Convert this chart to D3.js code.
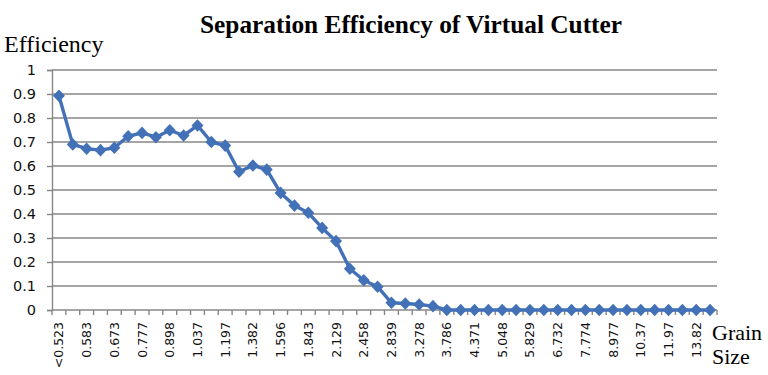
<!DOCTYPE html>
<html>
<head>
<meta charset="utf-8">
<script src="https://cdn.jsdelivr.net/npm/d3@7"></script>
<style>
  body { margin: 0; background: #fff; }
  svg { display: block; }
</style>
</head>
<body>
<svg id="viz"></svg>
<script>
// grain size classes (every other one is labelled on the axis)
const sizes = [
  '<0.523', '0.553', '0.583', '0.626', '0.673', '0.723', '0.777', '0.835',
  '0.898', '0.965', '1.037', '1.114', '1.197', '1.286', '1.382', '1.485',
  '1.596', '1.715', '1.843', '1.981', '2.129', '2.288', '2.458', '2.642',
  '2.839', '3.051', '3.278', '3.523', '3.786', '4.068', '4.371', '4.697',
  '5.048', '5.425', '5.829', '6.264', '6.732', '7.234', '7.774', '8.354',
  '8.977', '9.648', '10.37', '11.14', '11.97', '12.86', '13.82', '14.89'
];
const efficiency = [
  0.893, 0.69, 0.672, 0.666, 0.676, 0.724, 0.738, 0.72,
  0.749, 0.727, 0.769, 0.70, 0.685, 0.576, 0.602, 0.585,
  0.488, 0.435, 0.405, 0.342, 0.287, 0.172, 0.124, 0.097,
  0.03, 0.027, 0.023, 0.016, 0, 0, 0, 0,
  0, 0, 0, 0, 0, 0, 0, 0,
  0, 0, 0, 0, 0, 0, 0, 0
];
const yTicks = [0, 0.1, 0.2, 0.3, 0.4, 0.5, 0.6, 0.7, 0.8, 0.9, 1];

const W = 768, H = 375;
const margin = { top: 70, right: 51, bottom: 65, left: 52 };
const width = W - margin.left - margin.right;
const height = H - margin.top - margin.bottom;
const blue = '#4271b7';

const svg = d3.select('#viz').attr('width', W).attr('height', H);
const g = svg.append('g')
  .attr('transform', 'translate(' + margin.left + ',' + margin.top + ')');

// SCALES
const x = d3.scaleBand().domain(sizes).range([0, width]).padding(0);
const y = d3.scaleLinear().domain([0, 1]).range([height, 0]);

// GRIDLINES
g.append('g')
  .selectAll('line')
  .data(yTicks.slice(1))
  .enter()
  .append('line')
  .attr('x1', 0)
  .attr('x2', width)
  .attr('y1', (d) => y(d))
  .attr('y2', (d) => y(d))
  .style('stroke', '#878787')
  .style('stroke-width', 1.4);

// Y AXIS
const yAxis = g.append('g')
  .call(d3.axisLeft(y).tickValues(yTicks).tickFormat((d) => d3.format('')(d)).tickSize(5).tickPadding(11));
yAxis.select('.domain').style('stroke', '#878787').style('stroke-width', 1.4);
yAxis.selectAll('.tick line').style('stroke', '#878787').style('stroke-width', 1.4);
yAxis.selectAll('text')
  .style('font-family', 'DejaVu Sans')
  .style('font-size', '14.5px')
  .style('fill', '#111');

// X AXIS (ticks between categories, labels on every other category)
const xAxis = g.append('g').attr('transform', 'translate(0,' + height + ')');
xAxis.append('line')
  .attr('x1', 0).attr('x2', width)
  .style('stroke', '#878787').style('stroke-width', 1.4);
xAxis.selectAll('.xtick')
  .data(sizes.concat(['end']))
  .enter()
  .append('line')
  .attr('class', 'xtick')
  .attr('x1', (d, i) => i * x.step())
  .attr('x2', (d, i) => i * x.step())
  .attr('y1', 0)
  .attr('y2', 5)
  .style('stroke', '#878787')
  .style('stroke-width', 1.4);
xAxis.selectAll('.xlabel')
  .data(sizes.filter((d, i) => i % 2 === 0))
  .enter()
  .append('text')
  .attr('class', 'xlabel')
  .attr('transform', (d) => 'translate(' + (x(d) + x.bandwidth() / 2 + 4.5) + ',12) rotate(-90)')
  .attr('text-anchor', 'end')
  .style('font-family', 'DejaVu Sans')
  .style('font-size', '12.5px')
  .style('fill', '#111')
  .text((d) => d);

// DATA
const line = d3.line()
  .x((d, i) => x(sizes[i]) + x.bandwidth() / 2)
  .y((d) => y(d));

g.append('path')
  .datum(efficiency)
  .attr('d', line)
  .style('fill', 'none')
  .style('stroke', blue)
  .style('stroke-width', 3.4)
  .style('stroke-linejoin', 'round');

g.append('g')
  .selectAll('path')
  .data(efficiency)
  .enter()
  .append('path')
  .attr('transform', (d, i) => 'translate(' + (x(sizes[i]) + x.bandwidth() / 2) + ',' + y(d) + ')')
  .attr('d', 'M0,-6.3L6,0L0,6.3L-6,0Z')
  .style('fill', blue);

// LABELS
svg.append('text')
  .attr('x', 200)
  .attr('y', 33)
  .attr('textLength', 422)
  .attr('lengthAdjust', 'spacingAndGlyphs')
  .style('font-family', 'Liberation Serif')
  .style('font-weight', 'bold')
  .style('font-size', '26px')
  .text('Separation Efficiency of Virtual Cutter');

svg.append('text')
  .attr('x', 4)
  .attr('y', 52)
  .style('font-family', 'Liberation Serif')
  .style('font-size', '24px')
  .text('Efficiency');

svg.append('text')
  .attr('x', 712)
  .attr('y', 340)
  .style('font-family', 'Liberation Serif')
  .style('font-size', '22px')
  .text('Grain');
svg.append('text')
  .attr('x', 712)
  .attr('y', 364)
  .style('font-family', 'Liberation Serif')
  .style('font-size', '22px')
  .text('Size');
</script>
</body>
</html>
